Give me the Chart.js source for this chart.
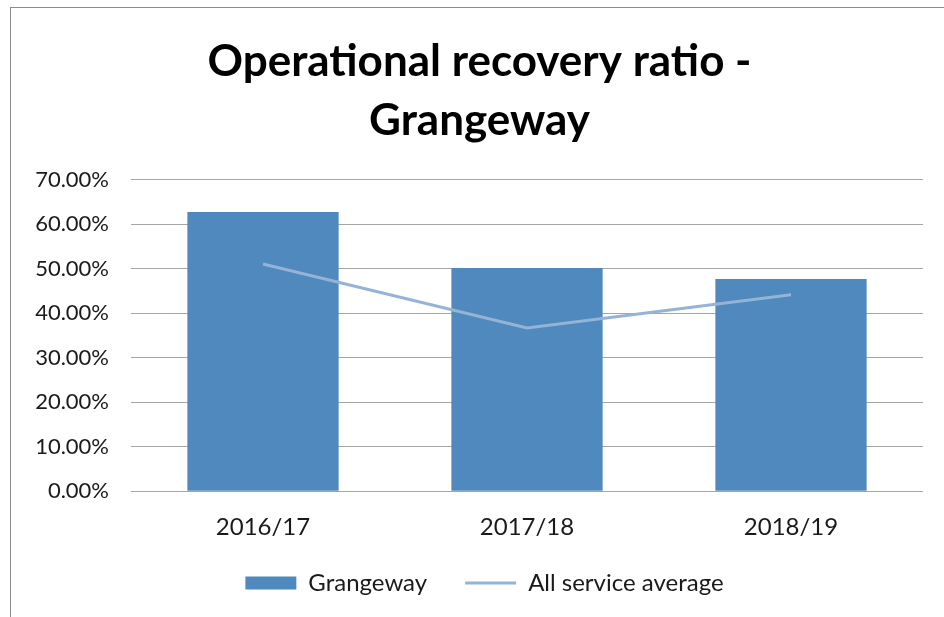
<!DOCTYPE html>
<html>
<head>
<meta charset="utf-8">
<script src="https://cdn.jsdelivr.net/npm/chart.js@4"></script>
<style>
  html, body { margin: 0; padding: 0; background: #fff; overflow: hidden; }
  #frame { position: absolute; left: 10px; top: 7px; width: 1000px; height: 700px;
           border-left: 1px solid #8c8c8c; border-top: 1px solid #8c8c8c; }
  #wrap { position: absolute; left: 0; top: 0; width: 944px; height: 617px; }
</style>
</head>
<body>
<div id="frame"></div>
<div id="wrap"><canvas id="c" width="944" height="617"></canvas></div>
<script>
const categories = ['2016/17', '2017/18', '2018/19'];
const grangeway = [62.8, 50.2, 47.7];
const serviceAverage = [51.1, 36.7, 44.2];
const yTicks = [0, 10, 20, 30, 40, 50, 60, 70];
const titleLines = ['Operational recovery ratio -', 'Grangeway'];
const seriesNames = ['Grangeway', 'All service average'];

const FONT = 'Lato, "Open Sans", sans-serif';

// nudge the legend and title blocks to where the reference places them
const blockNudge = {
  id: 'blockNudge',
  afterUpdate(chart) {
    const l = chart.legend;
    if (l) {
      l.left += 17; l.right += 17;
      l.top -= 12; l.bottom -= 12;
    }
    const t = chart.titleBlock;
    if (t) {
      t.left += 12; t.right += 12;
    }
  }
};

new Chart(document.getElementById('c'), {
  data: {
    labels: categories,
    datasets: [
      {
        type: 'bar',
        label: seriesNames[0],
        data: grangeway,
        backgroundColor: '#4F89BE',
        borderWidth: 0,
        categoryPercentage: 1,
        barPercentage: 0.573,
        order: 1,
        pointStyle: 'rect'
      },
      {
        type: 'line',
        label: seriesNames[1],
        data: serviceAverage,
        borderColor: '#95B3D7',
        backgroundColor: '#95B3D7',
        borderWidth: 3,
        pointRadius: 0,
        tension: 0,
        order: 0,
        pointStyle: 'line'
      }
    ]
  },
  plugins: [blockNudge],
  options: {
    responsive: false,
    animation: false,
    layout: { padding: { left: 12, right: 21, top: 10, bottom: 0 } },
    plugins: {
      tooltip: { enabled: false },
      title: {
        display: true,
        text: titleLines,
        color: '#000',
        font: { family: FONT, size: 44, weight: 'bold', lineHeight: 1.34 },
        padding: { top: 22, bottom: 30 }
      },
      legend: {
        position: 'bottom',
        labels: {
          usePointStyle: true,
          pointStyleWidth: 51,
          boxHeight: 13,
          padding: 38,
          color: '#1a1a1a',
          font: { family: FONT, size: 24 },
          sort: (a, b) => a.datasetIndex - b.datasetIndex
        }
      }
    },
    scales: {
      x: {
        grid: { display: false },
        border: { display: false },
        ticks: { color: '#1a1a1a', font: { family: FONT, size: 24 }, padding: 14 },
        afterFit: (s) => { s.height -= 11; }
      },
      y: {
        min: 0,
        max: 70,
        afterBuildTicks: (scale) => { scale.ticks = yTicks.map(v => ({ value: v })); },
        afterFit: (s) => { s.width = 119; },
        grid: { color: '#a6a6a6', lineWidth: 1, drawTicks: false },
        border: { display: false },
        ticks: {
          color: '#1a1a1a',
          font: { family: FONT, size: 22 },
          padding: 22,
          callback: (v) => Number(v).toFixed(2) + '%'
        }
      }
    }
  }
});
</script>
</body>
</html>
